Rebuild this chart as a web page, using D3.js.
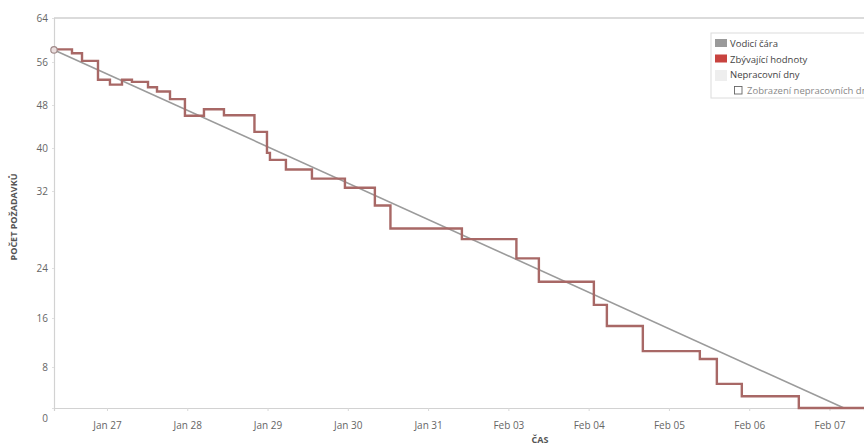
<!DOCTYPE html>
<html>
<head>
<meta charset="utf-8">
<script src="https://cdn.jsdelivr.net/npm/d3@7"></script>
<style>
  html, body { margin: 0; padding: 0; background: #fff; }
  svg { display: block; font-family: "Open Sans", "Noto Sans", sans-serif; }
</style>
</head>
<body>
<svg id="chart" width="864" height="446"></svg>
<script>
// ---- data ----
const dayLabels = ["Jan 27", "Jan 28", "Jan 29", "Jan 30", "Jan 31", "Feb 03", "Feb 04", "Feb 05", "Feb 06", "Feb 07"];
const yTicks = [0, 8, 16, 24, 32, 40, 48, 56, 64];
// remaining work: working-day offset (0 = Jan 27) and remaining count
const remainingDay = [-0.66, -0.436, -0.311, -0.112, 0.037, 0.187, 0.311, 0.511, 0.623, 0.785, 0.971, 1.208, 1.457, 1.837, 1.993, 2.030, 2.229, 2.553, 2.964, 3.337, 3.531, 4.421, 5.100, 5.380, 6.065, 6.227, 6.675, 7.385, 7.597, 7.908, 8.618, 9.43];
const remainingValue = [58.3, 57.6, 56.2, 52.7, 51.8, 52.7, 52.3, 51.3, 50.5, 49.1, 46.0, 47.2, 46.1, 43.0, 39.1, 37.8, 36.0, 34.3, 32.6, 30.5, 28.1, 27.0, 25.0, 21.8, 18.1, 14.7, 10.6, 9.3, 4.7, 2.3, 0, 0];
const guideDay = [-0.66, 9.18];
const guideValue = [58.2, 0];
const legendItems = ["Vodicí čára", "Zbývající hodnoty", "Nepracovní dny"];
const legendToggle = "Zobrazení nepracovních dní";

(function () {
// ---- layout ----
const svg = d3.select("#chart");
const mLeft = 54, mRight = 864, mTop = 18, mBottom = 408;

const x = d3.scaleLinear().domain([-0.66, 9.43]).range([mLeft, mRight]);
// axis as drawn in the source (uneven label spacing)
const y = d3.scaleLinear()
  .domain(yTicks)
  .range([408, 367, 318, 268, 191, 148, 105, 62, 18]);

// top border line
svg.append("line")
  .attr("x1", mLeft).attr("x2", mRight)
  .attr("y1", y(64)).attr("y2", y(64))
  .attr("stroke", "#cfcfcf").attr("stroke-width", 1.5);

// y axis
const yAxis = svg.append("g")
  .attr("transform", `translate(${mLeft},0)`)
  .call(d3.axisLeft(y).tickValues(yTicks).tickSize(2).tickPadding(4));
yAxis.select(".domain").attr("stroke", "#d2d2d2").attr("stroke-width", 1.2);
yAxis.selectAll(".tick line").attr("stroke", "#e0e0e0");
yAxis.selectAll(".tick text")
  .attr("fill", "#666").attr("font-size", "10px")
  .attr("font-family", "'Open Sans', 'Noto Sans', sans-serif");
yAxis.selectAll(".tick").filter(d => d === 0).select("text").attr("dy", "1.3em");

// x axis
const xAxis = svg.append("g")
  .attr("transform", `translate(0,${mBottom})`)
  .call(d3.axisBottom(x).tickValues(d3.range(dayLabels.length))
    .tickFormat(i => dayLabels[i]).tickSize(3).tickPadding(11));
xAxis.select(".domain").attr("stroke", "#d2d2d2").attr("stroke-width", 1.2);
xAxis.selectAll(".tick line").attr("stroke", "#d8d8d8");
xAxis.selectAll(".tick text")
  .attr("fill", "#666").attr("font-size", "10px")
  .attr("font-family", "'Open Sans', 'Noto Sans', sans-serif");

// axis titles
svg.append("text")
  .attr("transform", `translate(17,${(mTop + mBottom) / 2 + 4}) rotate(-90)`)
  .attr("text-anchor", "middle")
  .attr("font-size", "9px").attr("font-weight", "bold").attr("fill", "#555")
  .text("POČET POŽADAVKŮ");
svg.append("text")
  .attr("x", 540).attr("y", 443)
  .attr("text-anchor", "middle")
  .attr("font-size", "9px").attr("font-weight", "bold").attr("fill", "#555")
  .text("ČAS");

// guide line
const guidePts = guideDay.map((d, i) => [d, guideValue[i]]);
svg.append("path")
  .datum(guidePts)
  .attr("fill", "none")
  .attr("stroke", "#9b9b9b").attr("stroke-width", 1.6)
  .attr("d", d3.line().x(d => x(d[0])).y(d => y(d[1])));

// remaining values (step)
const remPts = remainingDay.map((d, i) => [d, remainingValue[i]]);
svg.append("path")
  .datum(remPts)
  .attr("fill", "none")
  .attr("stroke", "#a86866").attr("stroke-width", 2.4)
  .attr("d", d3.line().curve(d3.curveStepAfter).x(d => x(d[0])).y(d => y(d[1])));

// start marker
svg.append("circle")
  .attr("cx", x(guideDay[0])).attr("cy", y(guideValue[0]))
  .attr("r", 3.2)
  .attr("fill", "#eadede").attr("stroke", "#a08a8a").attr("stroke-width", 1.2);

// legend
const lg = svg.append("g").attr("transform", "translate(711,33)");
lg.append("rect")
  .attr("x", 0).attr("y", 0).attr("width", 170).attr("height", 65)
  .attr("fill", "#fff").attr("stroke", "#dcdcdc");
const swatchColors = ["#9a9a9a", "#c8433f", "#eeeeee"];
legendItems.forEach((t, i) => {
  const yy = 5 + i * 15.5;
  lg.append("rect")
    .attr("x", 4).attr("y", yy + 1).attr("width", 12).attr("height", i === 2 ? 11 : 8)
    .attr("fill", swatchColors[i]);
  lg.append("text")
    .attr("x", 19).attr("y", yy + 9)
    .attr("font-size", "9.5px").attr("fill", "#444")
    .text(t);
});
lg.append("rect")
  .attr("x", 23.5).attr("y", 53.5).attr("width", 7.5).attr("height", 7.5)
  .attr("fill", "#fff").attr("stroke", "#666").attr("stroke-width", 0.9);
lg.append("text")
  .attr("x", 36).attr("y", 60.5)
  .attr("font-size", "9.5px").attr("fill", "#888")
  .text(legendToggle);
})();
</script>
</body>
</html>
